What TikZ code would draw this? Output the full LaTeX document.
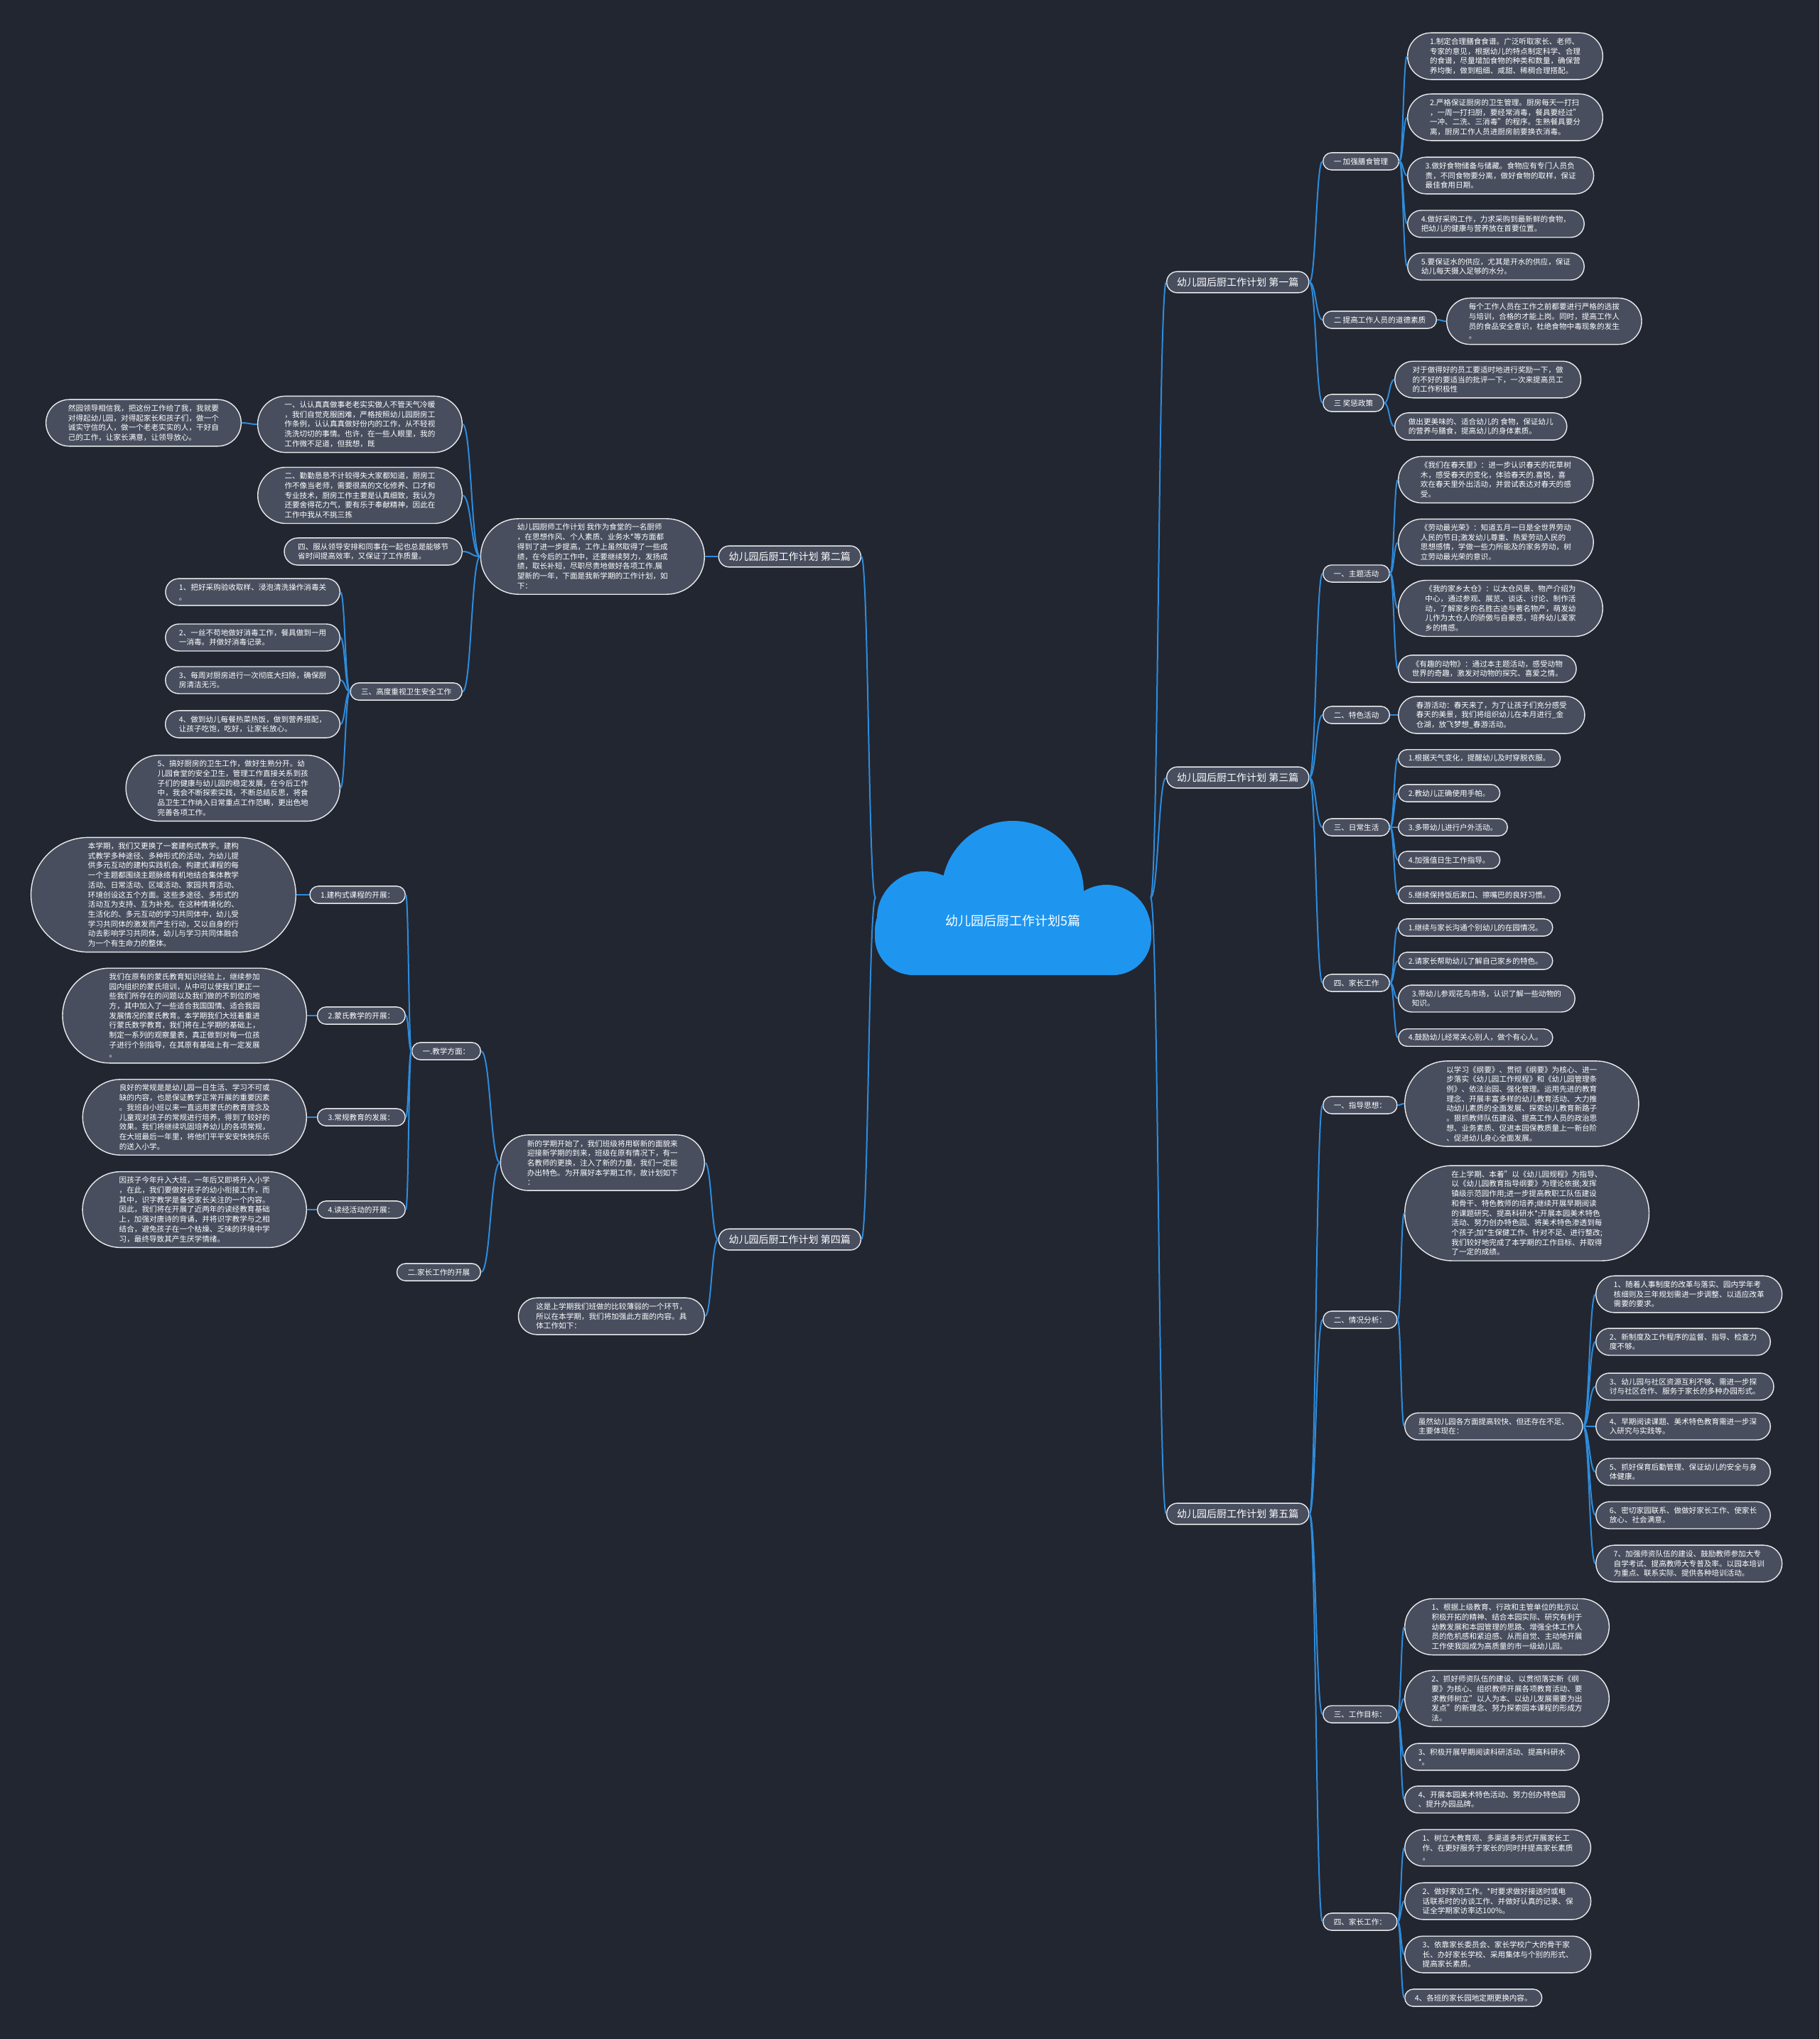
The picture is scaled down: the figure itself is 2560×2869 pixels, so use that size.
\documentclass[tikz,border=0pt]{standalone}
\usepackage{fontspec}
\setmainfont{Noto Sans CJK SC}
\usetikzlibrary{calc,shapes.misc}
\definecolor{bgcolor}{RGB}{34,38,49}
\definecolor{nodecolor}{RGB}{72,78,94}
\definecolor{linecolor}{RGB}{45,140,220}
\definecolor{cloudcolor}{RGB}{30,150,240}
% curved connector: leaves and enters horizontally
\newcommand\conn[2]{%
  \path ($(#1)!0.5!(#2)$) coordinate (mid);
  \draw[link] (#1) .. controls (mid |- #1) and (mid |- #2) .. (#2);}

\begin{document}
\begin{tikzpicture}[x=0.5pt, y=-0.5pt,
    leaf/.style={rounded rectangle, draw=white!88!nodecolor, line width=0.7pt, fill=nodecolor,
                 text=white, inner xsep=6.5pt, inner ysep=3.6pt, align=left,
                 font=\fontsize{5.3}{6.85}\selectfont},
    nl/.style={inner xsep={5.5pt+#1*1pt}},
    topic/.style={leaf, inner xsep=7pt},
    branch/.style={leaf, font=\fontsize{7}{8.4}\selectfont, inner ysep=4.2pt, inner xsep=6.5pt},
    link/.style={draw=linecolor, line width=1pt}
  ]
  \fill[bgcolor] (0,0) rectangle (2560,2869);

  % cloud
  \fill[cloudcolor, rounded corners=27pt] (1231,1255) rectangle (1620,1372);
  \fill[cloudcolor] (1425,1255) circle (50pt) (1300,1292) circle (33pt) (1557,1307) circle (31pt);
  \node[text=white, font=\fontsize{9}{10}\selectfont] (root) at (1425,1296) {幼儿园后厨工作计划5篇};
  \coordinate (rootR) at (1619,1263);
  \coordinate (rootL) at (1232,1263);

  % ---------- 第一篇
  \node[branch, anchor=west] (p1) at (1641,397) {幼儿园后厨工作计划 第一篇};
  \node[topic, anchor=west] (p1a) at (1861,227) {一 加强膳食管理};
  \node[leaf, nl=4, anchor=west] (p1a1) at (1980,79) {1.制定合理膳食食谱。广泛听取家长、老师、\\专家的意见，根据幼儿的特点制定科学、合理\\的食谱，尽量增加食物的种类和数量，确保营\\养均衡，做到粗细、咸甜、稀稠合理搭配。};
  \node[leaf, nl=4, anchor=west] (p1a2) at (1980,165) {2.严格保证厨房的卫生管理。厨房每天一打扫\\，一周一打扫厨，要经常消毒，餐具要经过"\\一冲、二洗、三消毒"的程序。生熟餐具要分\\离，厨房工作人员进厨房前要换衣消毒。};
  \node[leaf, nl=3, anchor=west] (p1a3) at (1980,247) {3.做好食物储备与储藏。食物应有专门人员负\\责，不同食物要分离，做好食物的取样，保证\\最佳食用日期。};
  \node[leaf, nl=2, anchor=west] (p1a4) at (1980,315) {4.做好采购工作，力求采购到最新鲜的食物，\\把幼儿的健康与营养放在首要位置。};
  \node[leaf, nl=2, anchor=west] (p1a5) at (1980,375) {5.要保证水的供应，尤其是开水的供应，保证\\幼儿每天摄入足够的水分。};
  \node[topic, anchor=west] (p1b) at (1861,450) {二 提高工作人员的道德素质};
  \node[leaf, nl=4, anchor=west] (p1b1) at (2035,452) {每个工作人员在工作之前都要进行严格的选拔\\与培训，合格的才能上岗。同时，提高工作人\\员的食品安全意识，杜绝食物中毒现象的发生\\。};
  \node[topic, anchor=west] (p1c) at (1861,567) {三 奖惩政策};
  \node[leaf, nl=3, anchor=west] (p1c1) at (1962,534) {对于做得好的员工要适时地进行奖励一下，做\\的不好的要适当的批评一下，一次来提高员工\\的工作积极性};
  \node[leaf, nl=2, anchor=west] (p1c2) at (1962,600) {做出更美味的、适合幼儿的 食物，保证幼儿\\的营养与膳食，提高幼儿的身体素质。};

  % ---------- 第三篇
  \node[branch, anchor=west] (p3) at (1641,1094) {幼儿园后厨工作计划 第三篇};
  \node[topic, anchor=west] (p3a) at (1861,807) {一、主题活动};
  \node[leaf, nl=4, anchor=west] (p3a1) at (1967,675) {《我们在春天里》：进一步认识春天的花草树\\木，感受春天的变化，体验春天的.喜悦，喜\\欢在春天里外出活动，并尝试表达对春天的感\\受。};
  \node[leaf, nl=4, anchor=west] (p3a2) at (1967,763) {《劳动最光荣》：知道五月一日是全世界劳动\\人民的节日;激发幼儿尊重、热爱劳动人民的\\思想感情，学做一些力所能及的家务劳动，树\\立劳动最光荣的意识。};
  \node[leaf, nl=5, anchor=west] (p3a3) at (1967,856) {《我的家乡太仓》：以太仓风景、物产介绍为\\中心，通过参观、展览、谈话、讨论、制作活\\动，了解家乡的名胜古迹与著名物产，萌发幼\\儿作为太仓人的骄傲与自豪感，培养幼儿爱家\\乡的情感。};
  \node[leaf, nl=2, anchor=west] (p3a4) at (1967,941) {《有趣的动物》：通过本主题活动，感受动物\\世界的奇趣，激发对动物的探究、喜爱之情。};
  \node[topic, anchor=west] (p3b) at (1861,1006) {二、特色活动};
  \node[leaf, nl=3, anchor=west] (p3b1) at (1967,1006) {春游活动：春天来了，为了让孩子们充分感受\\春天的美景，我们将组织幼儿在本月进行\_金\\仓湖，放飞梦想\_春游活动。};
  \node[topic, anchor=west] (p3c) at (1861,1164) {三、日常生活};
  \node[leaf, nl=1, anchor=west] (p3c1) at (1967,1067) {1.根据天气变化，提醒幼儿及时穿脱衣服。};
  \node[leaf, nl=1, anchor=west] (p3c2) at (1967,1116) {2.教幼儿正确使用手帕。};
  \node[leaf, nl=1, anchor=west] (p3c3) at (1967,1164) {3.多带幼儿进行户外活动。};
  \node[leaf, nl=1, anchor=west] (p3c4) at (1967,1210) {4.加强值日生工作指导。};
  \node[leaf, nl=1, anchor=west] (p3c5) at (1967,1259) {5.继续保持饭后漱口、擦嘴巴的良好习惯。};
  \node[topic, anchor=west] (p3d) at (1861,1383) {四、家长工作};
  \node[leaf, nl=1, anchor=west] (p3d1) at (1967,1305) {1.继续与家长沟通个别幼儿的在园情况。};
  \node[leaf, nl=1, anchor=west] (p3d2) at (1967,1352) {2.请家长帮助幼儿了解自己家乡的特色。};
  \node[leaf, nl=2, anchor=west] (p3d3) at (1967,1405) {3.带幼儿参观花鸟市场，认识了解一些动物的\\知识。};
  \node[leaf, nl=1, anchor=west] (p3d4) at (1967,1460) {4.鼓励幼儿经常关心别人，做个有心人。};

  % ---------- 第五篇
  \node[branch, anchor=west] (p5) at (1641,2130) {幼儿园后厨工作计划 第五篇};
  \node[topic, anchor=west] (p5a) at (1861,1555) {一、指导思想：};
  \node[leaf, nl=8, anchor=west] (p5a1) at (1976,1553) {以学习《纲要》、贯彻《纲要》为核心、进一\\步落实《幼儿园工作规程》和《幼儿园管理条\\例》、依法治园、强化管理。运用先进的教育\\理念、开展丰富多样的幼儿教育活动、大力推\\动幼儿素质的全面发展、探索幼儿教育新路子\\。狠抓教师队伍建设、提高工作人员的政治思\\想、业务素质、促进本园保教质量上一新台阶\\、促进幼儿身心全面发展。};
  \node[topic, anchor=west] (p5b) at (1861,1857) {二、情况分析：};
  \node[leaf, nl=9, anchor=west] (p5b1) at (1976,1707) {在上学期、本着"以《幼儿园规程》为指导、\\以《幼儿园教育指导纲要》为理论依据;发挥\\镇级示范园作用;进一步提高教职工队伍建设\\和骨干、特色教师的培养;继续开展早期阅读\\的课题研究、提高科研水*;开展本园美术特色\\活动、努力创办特色园、将美术特色渗透到每\\个孩子;加*生保健工作、针对不足、进行整改;\\我们较好地完成了本学期的工作目标、并取得\\了一定的成绩。};
  \node[leaf, nl=2, anchor=west] (p5b2) at (1976,2007) {虽然幼儿园各方面提高较快、但还存在不足、\\主要体现在：};
  \node[leaf, nl=3, anchor=west] (q1) at (2245,1821) {1、随着人事制度的改革与落实、园内学年考\\核细则及三年规划需进一步调整、以适应改革\\需要的要求。};
  \node[leaf, nl=2, anchor=west] (q2) at (2245,1888) {2、新制度及工作程序的监督、指导、检查力\\度不够。};
  \node[leaf, nl=2, anchor=west] (q3) at (2245,1951) {3、幼儿园与社区资源互利不够、需进一步探\\讨与社区合作、服务于家长的多种办园形式。};
  \node[leaf, nl=2, anchor=west] (q4) at (2245,2007) {4、早期阅读课题、美术特色教育需进一步深\\入研究与实践等。};
  \node[leaf, nl=2, anchor=west] (q5) at (2245,2071) {5、抓好保育后勤管理、保证幼儿的安全与身\\体健康。};
  \node[leaf, nl=2, anchor=west] (q6) at (2245,2132) {6、密切家园联系、做做好家长工作、使家长\\放心、社会满意。};
  \node[leaf, nl=3, anchor=west] (q7) at (2245,2200) {7、加强师资队伍的建设、鼓励教师参加大专\\自学考试、提高教师大专普及率。以园本培训\\为重点、联系实际、提供各种培训活动。};
  \node[topic, anchor=west] (p5c) at (1861,2412) {三、工作目标：};
  \node[leaf, nl=5, anchor=west] (p5c1) at (1976,2289) {1、根据上级教育、行政和主管单位的批示以\\积极开拓的精神、结合本园实际、研究有利于\\幼教发展和本园管理的思路、增强全体工作人\\员的危机感和紧迫感、从而自觉、主动地开展\\工作使我园成为高质量的市一级幼儿园。};
  \node[leaf, nl=5, anchor=west] (p5c2) at (1976,2390) {2、抓好师资队伍的建设、以贯彻落实新《纲\\要》为核心、组织教师开展各项教育活动、要\\求教师树立"以人为本、以幼儿发展需要为出\\发点"的新理念、努力探索园本课程的形成方\\法。};
  \node[leaf, nl=2, anchor=west] (p5c3) at (1976,2472) {3、积极开展早期阅读科研活动、提高科研水\\{}*。};
  \node[leaf, nl=2, anchor=west] (p5c4) at (1976,2532) {4、开展本园美术特色活动、努力创办特色园\\、提升办园品牌。};
  \node[topic, anchor=west] (p5d) at (1861,2704) {四、家长工作：};
  \node[leaf, nl=3, anchor=west] (p5d1) at (1976,2600) {1、树立大教育观、多渠道多形式开展家长工\\作、在更好服务于家长的同时并提高家长素质\\。};
  \node[leaf, nl=3, anchor=west] (p5d2) at (1976,2675) {2、做好家访工作。*时要求做好接送时或电\\话联系时的访谈工作、并做好认真的记录、保\\证全学期家访率达100\%。};
  \node[leaf, nl=3, anchor=west] (p5d3) at (1976,2750) {3、依靠家长委员会、家长学校广大的骨干家\\长、办好家长学校、采用集体与个别的形式、\\提高家长素质。};
  \node[leaf, nl=1, anchor=west] (p5d4) at (1976,2811) {4、各班的家长园地定期更换内容。};

  % ---------- 第二篇
  \node[branch, anchor=east] (p2) at (1212,783) {幼儿园后厨工作计划 第二篇};
  \node[leaf, nl=7, anchor=east] (p2i) at (992,783) {幼儿园厨师工作计划 我作为食堂的一名厨师\\，在思想作风、个人素质、业务水*等方面都\\得到了进一步提高，工作上虽然取得了一些成\\绩，在今后的工作中，还要继续努力，发扬成\\绩，取长补短，尽职尽责地做好各项工作.展\\望新的一年，下面是我新学期的工作计划，如\\下：};
  \node[leaf, nl=5, anchor=east] (a1) at (651,597) {一、认认真真做事老老实实做人不管天气冷暖\\，我们自觉克服困难，严格按照幼儿园厨房工\\作条例，认认真真做好份内的工作，从不轻视\\洗洗切切的事情。也许，在一些人眼里，我的\\工作微不足道，但我想，既};
  \node[leaf, nl=4, anchor=east] (a1c) at (340,595) {然园领导相信我，把这份工作给了我，我就要\\对得起幼儿园，对得起家长和孩子们，做一个\\诚实守信的人，做一个老老实实的人，干好自\\己的工作，让家长满意，让领导放心。};
  \node[leaf, nl=5, anchor=east] (a2) at (651,697) {二、勤勤恳恳不计较得失大家都知道，厨房工\\作不像当老师，需要很高的文化修养、口才和\\专业技术，厨房工作主要是认真细致，我认为\\还要舍得花力气，要有乐于奉献精神，因此在\\工作中我从不挑三拣};
  \node[leaf, nl=2, anchor=east] (a4) at (651,776) {四、服从领导安排和同事在一起也总是能够节\\省时间提高效率，又保证了工作质量。};
  \node[topic, anchor=east] (a3) at (651,973) {三、高度重视卫生安全工作};
  \node[leaf, nl=2, anchor=east] (a31) at (479,833) {1、把好采购验收取样、浸泡清洗操作消毒关\\。};
  \node[leaf, nl=2, anchor=east] (a32) at (479,897) {2、一丝不苟地做好消毒工作，餐具做到一用\\一消毒。并做好消毒记录。};
  \node[leaf, nl=2, anchor=east] (a33) at (479,957) {3、每周对厨房进行一次彻底大扫除，确保厨\\房清洁无污。};
  \node[leaf, nl=2, anchor=east] (a34) at (479,1019) {4、做到幼儿每餐热菜热饭，做到营养搭配，\\让孩子吃饱，吃好，让家长放心。};
  \node[leaf, nl=6, anchor=east] (a35) at (479,1109) {5、搞好厨房的卫生工作，做好生熟分开。幼\\儿园食堂的安全卫生，管理工作直接关系到孩\\子们的健康与幼儿园的稳定发展，在今后工作\\中，我会不断探索实践，不断总结反思，将食\\品卫生工作纳入日常重点工作范畴，更出色地\\完善各项工作。};

  % ---------- 第四篇
  \node[branch, anchor=east] (p4) at (1212,1744) {幼儿园后厨工作计划 第四篇};
  \node[leaf, nl=5, anchor=east] (p4i) at (992,1636) {新的学期开始了，我们班级将用崭新的面貌来\\迎接新学期的到来，班级在原有情况下，有一\\名教师的更换，注入了新的力量，我们一定能\\办出特色。为开展好本学期工作，故计划如下\\：};
  \node[topic, anchor=east] (t1) at (677,1479) {一.教学方面：};
  \node[topic, anchor=east] (t11) at (571,1259) {1.建构式课程的开展：};
  \node[topic, anchor=east] (t12) at (571,1429) {2.蒙氏教学的开展：};
  \node[topic, anchor=east] (t13) at (571,1572) {3.常规教育的发展：};
  \node[topic, anchor=east] (t14) at (571,1702) {4.读经活动的开展：};
  \node[leaf, nl=11, anchor=east] (b1) at (417,1259) {本学期，我们又更换了一套建构式教学。建构\\式教学多种途径、多种形式的活动，为幼儿提\\供多元互动的建构实践机会。构建式课程的每\\一个主题都围绕主题脉络有机地结合集体教学\\活动、日常活动、区域活动、家园共育活动、\\环境创设这五个方面。这些多途径、多形式的\\活动互为支持、互为补充。在这种情境化的、\\生活化的、多元互动的学习共同体中，幼儿受\\学习共同体的激发而产生行动，又以自身的行\\动去影响学习共同体，幼儿与学习共同体融合\\为一个有生命力的整体。};
  \node[leaf, nl=9, anchor=east] (b2) at (432,1429) {我们在原有的蒙氏教育知识经验上，继续参加\\园内组织的蒙氏培训，从中可以使我们更正一\\些我们所存在的问题以及我们做的不到位的地\\方，其中加入了一些适合我国国情、适合我园\\发展情况的蒙氏教育。本学期我们大班着重进\\行蒙氏数学教育，我们将在上学期的基础上，\\制定一系列的观察量表，真正做到对每一位孩\\子进行个别指导，在其原有基础上有一定发展\\。};
  \node[leaf, nl=7, anchor=east] (b3) at (432,1572) {良好的常规是是幼儿园一日生活、学习不可或\\缺的内容，也是保证教学正常开展的重要因素\\。我班自小班以来一直运用蒙氏的教育理念及\\儿童观对孩子的常规进行培养，得到了较好的\\效果。我们将继续巩固培养幼儿的各项常规，\\在大班最后一年里，将他们平平安安快快乐乐\\的送入小学。};
  \node[leaf, nl=7, anchor=east] (b4) at (432,1702) {因孩子今年升入大班，一年后又即将升入小学\\，在此，我们要做好孩子的幼小衔接工作，而\\其中，识字教学是备受家长关注的一个内容。\\因此，我们将在开展了近两年的读经教育基础\\上，加强对唐诗的背诵，并将识字教学与之相\\结合，避免孩子在一个枯燥、乏味的环境中学\\习，最终导致其产生厌学情绪。};
  \node[topic, anchor=east] (t2) at (677,1790) {二.家长工作的开展};
  \node[leaf, nl=3, anchor=east] (p4j) at (992,1852) {这是上学期我们班做的比较薄弱的一个环节，\\所以在本学期，我们将加强此方面的内容。具\\体工作如下：};

  % ---------- connectors
  \foreach \b in {p1,p3,p5} \conn{rootR}{\b.west};
  \foreach \b in {p2,p4} \conn{rootL}{\b.east};
  \foreach \c in {p1a,p1b,p1c} \conn{p1.east}{\c.west};
  \foreach \c in {p1a1,p1a2,p1a3,p1a4,p1a5} \conn{p1a.east}{\c.west};
  \conn{p1b.east}{p1b1.west}
  \foreach \c in {p1c1,p1c2} \conn{p1c.east}{\c.west};
  \foreach \c in {p3a,p3b,p3c,p3d} \conn{p3.east}{\c.west};
  \foreach \c in {p3a1,p3a2,p3a3,p3a4} \conn{p3a.east}{\c.west};
  \conn{p3b.east}{p3b1.west}
  \foreach \c in {p3c1,p3c2,p3c3,p3c4,p3c5} \conn{p3c.east}{\c.west};
  \foreach \c in {p3d1,p3d2,p3d3,p3d4} \conn{p3d.east}{\c.west};
  \foreach \c in {p5a,p5b,p5c,p5d} \conn{p5.east}{\c.west};
  \conn{p5a.east}{p5a1.west}
  \foreach \c in {p5b1,p5b2} \conn{p5b.east}{\c.west};
  \foreach \c in {q1,q2,q3,q4,q5,q6,q7} \conn{p5b2.east}{\c.west};
  \foreach \c in {p5c1,p5c2,p5c3,p5c4} \conn{p5c.east}{\c.west};
  \foreach \c in {p5d1,p5d2,p5d3,p5d4} \conn{p5d.east}{\c.west};
  \conn{p2.west}{p2i.east}
  \foreach \c in {a1,a2,a4,a3} \conn{p2i.west}{\c.east};
  \conn{a1.west}{a1c.east}
  \foreach \c in {a31,a32,a33,a34,a35} \conn{a3.west}{\c.east};
  \foreach \c in {p4i,p4j} \conn{p4.west}{\c.east};
  \foreach \c in {t1,t2} \conn{p4i.west}{\c.east};
  \foreach \c in {t11,t12,t13,t14} \conn{t1.west}{\c.east};
  \conn{t11.west}{b1.east}
  \conn{t12.west}{b2.east}
  \conn{t13.west}{b3.east}
  \conn{t14.west}{b4.east}
\end{tikzpicture}
\end{document}
